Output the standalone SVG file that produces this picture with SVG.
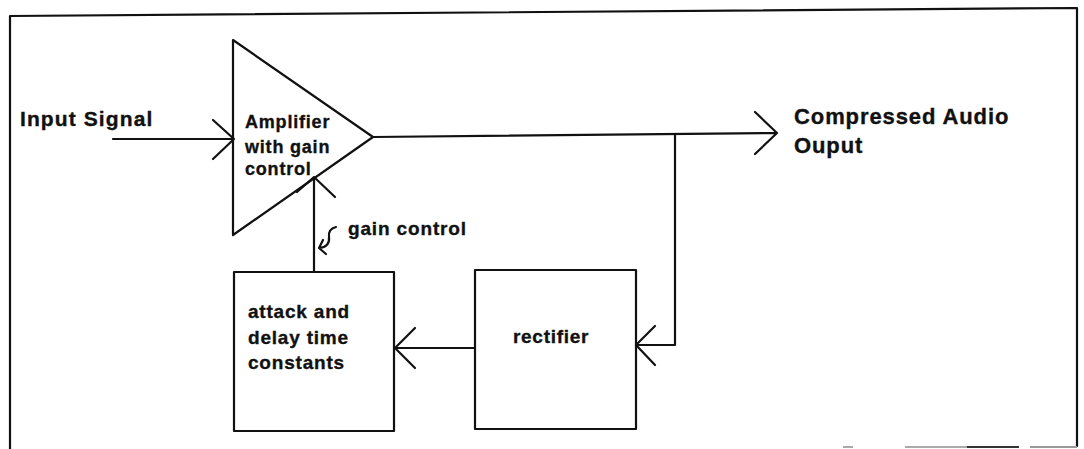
<svg xmlns="http://www.w3.org/2000/svg" width="1084" height="449" viewBox="0 0 1084 449">
<style>
.ln{fill:none;stroke:#111;stroke-width:2.2;stroke-linecap:round;stroke-linejoin:round}
.t{font-family:"Liberation Sans",Arial,Helvetica,sans-serif;font-weight:bold;fill:#111;stroke:#111;stroke-width:0.35}
</style>
<rect width="1084" height="449" fill="#fff"/>
<g id="frame">
<path class="ln" d="M10,449 V16 L1077,8 V446"/>
<path d="M843,447 H853 M905,447 H967" stroke="#aaa" stroke-width="2" fill="none"/>
<path d="M967,447 H1019" stroke="#333" stroke-width="2" fill="none"/>
<path d="M1030,447 H1077" stroke="#999" stroke-width="2" fill="none"/>
</g>
<g id="amplifier">
<path class="ln" d="M233,40 L373,137 L233,235 Z"/>
<text class="t" font-size="18" letter-spacing="0.8" x="245" y="128">Amplifier</text>
<text class="t" font-size="18" letter-spacing="0.8" x="245" y="153">with gain</text>
<text class="t" font-size="18" letter-spacing="0.8" x="245" y="175">control</text>
</g>
<g id="attack">
<rect class="ln" x="234" y="272" width="160" height="159"/>
<text class="t" font-size="19" letter-spacing="0.8" x="248" y="318">attack and</text>
<text class="t" font-size="19" letter-spacing="0.8" x="248" y="344">delay time</text>
<text class="t" font-size="19" letter-spacing="0.8" x="248" y="369">constants</text>
</g>
<g id="rectifier">
<rect class="ln" x="475" y="270" width="161" height="159"/>
<text class="t" font-size="19" letter-spacing="0.7" x="513" y="343">rectifier</text>
</g>
<g id="labels">
<text class="t" font-size="21" letter-spacing="1.1" x="20" y="126">Input Signal</text>
<text class="t" font-size="22" letter-spacing="0.9" x="794" y="124">Compressed Audio</text>
<text class="t" font-size="22" letter-spacing="0.9" x="794" y="153">Ouput</text>
<text class="t" font-size="19" letter-spacing="0.85" x="348" y="235">gain control</text>
</g>
<g id="connectors">
<path class="ln" d="M113,139 H233 M213,120 L234,139 L213,159"/>
<path class="ln" d="M373,137 L777,133 M755,112 L777,133 L755,154"/>
<path class="ln" d="M675,134 V345 H636 M655,326 L636,345 L655,365"/>
<path class="ln" d="M475,348 H394 M415,328 L395,348 L415,368"/>
<path class="ln" d="M314,272 V177 M297,192 L314,177 L335,197"/>
<path class="ln" d="M336,227 Q328,229 329,237 Q330,247 319,248 M323,240 L319,248 L326,254"/>
</g>
</svg>
